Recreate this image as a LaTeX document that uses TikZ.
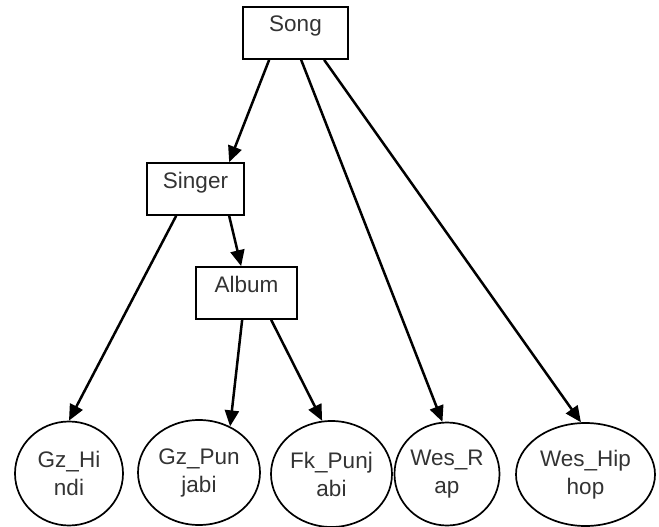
\documentclass[tikz,border=0pt]{standalone}
\usepackage{fontspec}
\setmainfont{Liberation Sans}
\usetikzlibrary{arrows.meta,shapes.geometric,calc}
\begin{document}
\begin{tikzpicture}[x=1pt,y=1pt,
  every node/.style={font=\fontsize{22.5}{28}\selectfont, text=black!80},
  box/.style={draw=black, line width=1.7pt, rectangle, inner xsep=0pt, inner ysep=0pt, text height=25pt, text depth=27pt},
  leaf/.style={draw=black, line width=1.7pt, ellipse, inner sep=0pt, align=center},
  arr/.style={-{Triangle[length=16pt,width=14pt]}, line width=2.5pt}]
\useasboundingbox (0,0) rectangle (659,-527);
\node[box, minimum width=105pt] (song) at (295.5,-33) {Song};
\node[box, minimum width=97pt] (singer) at (195.5,-189) {Singer};
\node[box, minimum width=101pt] (album) at (246.5,-293) {Album};
\node[leaf, minimum width=108pt, minimum height=104pt] (gzh) at (69,-473.5) {Gz\_Hi\\ndi};
\node[leaf, minimum width=122pt, minimum height=105pt] (gzp) at (199,-472.5) {Gz\_Pun\\jabi};
\node[leaf, minimum width=121pt, minimum height=106pt] (fkp) at (331.5,-474) {Fk\_Punj\\abi};
\node[leaf, minimum width=105pt, minimum height=103pt] (wr) at (447,-474) {Wes\_R\\ap};
\node[leaf, minimum width=139pt, minimum height=103pt] (wh) at (585.5,-474.5) {Wes\_Hip\\hop};
\draw[arr] ([xshift=27pt]song.south west) -- ([xshift=83pt]singer.north west);
\draw[arr] ([xshift=59pt]song.south west) -- (wr.95);
\draw[arr] ([xshift=82pt]song.south west) -- (wh.95);
\draw[arr] ([xshift=30pt]singer.south west) -- (gzh.north);
\draw[arr] ([xshift=83pt]singer.south west) -- ([xshift=46pt]album.north west);
\draw[arr] ([xshift=47pt]album.south west) -- (gzp.56);
\draw[arr] ([xshift=76pt]album.south west) -- (fkp.100);
\end{tikzpicture}
\end{document}
